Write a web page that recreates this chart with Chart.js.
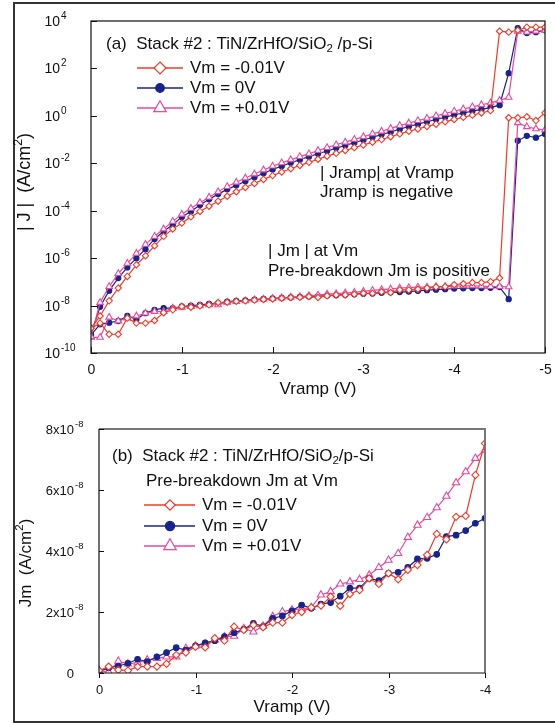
<!DOCTYPE html>
<html><head><meta charset="utf-8">
<script src="https://cdn.jsdelivr.net/npm/chart.js@4.4.1/dist/chart.umd.min.js"></script>
<style>
html,body{margin:0;padding:0;background:#fff;width:555px;height:723px;overflow:hidden;position:relative}
#frame{position:absolute;left:13px;top:2px;width:600px;height:717px;border:2px solid #333}
canvas{position:absolute;left:0}
#ca{top:0}
#cb{top:400px}
</style></head><body>
<div id="frame"></div>
<canvas id="ca" width="555" height="400"></canvas>
<canvas id="cb" width="555" height="323"></canvas>
<script>
// ---------- DATA (panel a) : Vramp (V) and log10 |J| (A/cm2) ----------
const vrampA = [0,-0.1,-0.2,-0.3,-0.4,-0.5,-0.6,-0.7,-0.8,-0.9,-1.0,-1.1,-1.2,-1.3,-1.4,-1.5,-1.6,-1.7,-1.8,-1.9,-2.0,-2.1,-2.2,-2.3,-2.4,-2.5,-2.6,-2.7,-2.8,-2.9,-3.0,-3.1,-3.2,-3.3,-3.4,-3.5,-3.6,-3.7,-3.8,-3.9,-4.0,-4.1,-4.2,-4.3,-4.4,-4.5,-4.6,-4.7,-4.8,-4.9,-5.0];
// |Jramp| at Vramp
const logJrampNeg  = [-8.96,-8.44,-7.8,-7.26,-6.77,-6.28,-5.9,-5.48,-5.08,-4.77,-4.52,-4.26,-4.03,-3.81,-3.6,-3.39,-3.2,-3.02,-2.85,-2.68,-2.52,-2.37,-2.23,-2.09,-1.96,-1.83,-1.7,-1.58,-1.46,-1.34,-1.23,-1.11,-1.0,-0.88,-0.76,-0.65,-0.55,-0.45,-0.35,-0.25,-0.15,-0.06,0.03,0.12,0.22,3.57,3.53,3.61,3.74,3.74,3.74];
const logJrampZero = [-9.2,-8.05,-7.37,-6.84,-6.39,-6.0,-5.62,-5.19,-4.87,-4.59,-4.26,-4.03,-3.76,-3.52,-3.3,-3.1,-2.93,-2.76,-2.59,-2.42,-2.26,-2.12,-1.98,-1.85,-1.72,-1.6,-1.48,-1.36,-1.25,-1.13,-1.02,-0.9,-0.79,-0.68,-0.56,-0.45,-0.35,-0.25,-0.15,-0.06,0.04,0.12,0.2,0.27,0.35,0.45,1.8,3.7,3.49,3.53,3.61];
const logJrampPos  = [-9.31,-7.87,-7.2,-6.65,-6.22,-5.8,-5.42,-5.08,-4.77,-4.45,-4.15,-3.9,-3.66,-3.43,-3.2,-2.98,-2.8,-2.62,-2.45,-2.28,-2.12,-1.98,-1.85,-1.72,-1.6,-1.46,-1.34,-1.22,-1.11,-0.99,-0.88,-0.76,-0.65,-0.53,-0.41,-0.3,-0.2,-0.1,0.0,0.1,0.2,0.29,0.38,0.47,0.55,0.65,0.78,3.57,3.53,3.57,3.61];
// |Jm| at Vm
const logJmNeg  = [-8.96,-8.74,-9.21,-9.21,-8.53,-8.74,-8.74,-8.63,-8.3,-8.18,-8.04,-8.07,-8.01,-7.97,-7.87,-7.86,-7.82,-7.8,-7.77,-7.74,-7.72,-7.69,-7.66,-7.65,-7.62,-7.66,-7.59,-7.55,-7.55,-7.52,-7.48,-7.48,-7.42,-7.45,-7.34,-7.34,-7.31,-7.26,-7.22,-7.2,-7.12,-7.08,-7.03,-7.03,-6.99,-6.84,-0.08,-0.08,-0.04,-0.2,0.13];
const logJmZero = [-9.24,-8.79,-8.72,-8.65,-8.44,-8.58,-8.32,-8.18,-8.11,-8.11,-8.04,-8.0,-7.97,-7.93,-7.9,-7.83,-7.8,-7.78,-7.75,-7.72,-7.7,-7.68,-7.66,-7.63,-7.62,-7.6,-7.58,-7.56,-7.54,-7.52,-7.5,-7.49,-7.46,-7.44,-7.43,-7.41,-7.38,-7.35,-7.33,-7.31,-7.28,-7.27,-7.26,-7.26,-7.25,-7.22,-7.73,-1.05,-0.84,-0.92,-0.76];
const logJmPos  = [-9.34,-9.34,-8.49,-8.65,-8.53,-8.44,-8.32,-8.25,-8.25,-8.11,-8.07,-8.04,-8.01,-7.97,-7.97,-7.86,-7.83,-7.8,-7.76,-7.73,-7.7,-7.67,-7.64,-7.62,-7.58,-7.56,-7.52,-7.5,-7.47,-7.44,-7.4,-7.36,-7.33,-7.3,-7.26,-7.24,-7.22,-7.22,-7.2,-7.2,-7.18,-7.17,-7.17,-7.18,-7.2,-7.2,-7.21,-0.29,-0.46,-0.55,-0.59];
const yTickExpA = [-10,-8,-6,-4,-2,0,2,4];
const xTicksA = [0,-1,-2,-3,-4,-5];

// ---------- DATA (panel b) : pre-breakdown Jm (units of 1e-8 A/cm2) ----------
const vrampB = [0,-0.1,-0.2,-0.3,-0.4,-0.5,-0.6,-0.7,-0.8,-0.9,-1.0,-1.1,-1.2,-1.3,-1.4,-1.5,-1.6,-1.7,-1.8,-1.9,-2.0,-2.1,-2.2,-2.3,-2.4,-2.5,-2.6,-2.7,-2.8,-2.9,-3.0,-3.1,-3.2,-3.3,-3.4,-3.5,-3.6,-3.7,-3.8,-3.9,-4.0];
const jmNeg  = [0.08,0.21,0.1,0.08,0.21,0.21,0.21,0.3,0.59,0.67,0.86,0.84,1.14,1.06,1.52,1.41,1.57,1.5,1.65,1.65,1.9,2.0,2.15,2.21,2.5,2.2,2.59,2.72,3.1,2.92,3.27,3.07,3.38,3.54,3.87,4.56,4.38,5.12,5.15,6.49,7.53];
const jmZero = [0.05,0.17,0.23,0.32,0.45,0.37,0.53,0.67,0.83,0.75,0.89,0.99,1.06,1.19,1.32,1.43,1.63,1.52,1.79,1.87,2.04,2.23,2.12,2.26,2.31,2.52,2.78,2.78,3.1,3.03,3.27,3.3,3.46,3.74,3.76,3.89,4.47,4.52,4.67,4.91,5.07];
const jmPos  = [0.08,0.04,0.39,0.3,0.34,0.43,0.48,0.53,0.53,0.81,0.89,0.95,1.09,1.19,1.21,1.46,1.35,1.54,1.85,2.01,2.07,2.1,2.15,2.56,2.67,2.92,2.99,3.07,3.21,3.46,3.7,3.92,4.45,4.85,5.1,5.42,5.8,6.24,6.6,7.04,7.31];
const yTicksB = [0,2,4,6,8];
const xTicksB = [0,-1,-2,-3,-4];

const seriesLabels = ['Vm = -0.01V','Vm = 0V','Vm = +0.01V'];

// ---------- STYLE ----------
const FONT = '"Liberation Sans", Arial, Helvetica, sans-serif';
const RED = '#ef3b26', BLUE = '#17248e', PINK = '#e8489e';
const styles = [
  {color:RED, pt:'rectRot', fill:'#ffffff'},
  {color:BLUE, pt:'circle', fill:BLUE},
  {color:PINK, pt:'triangle', fill:'#ffffff'}
];

function mkDs(xs, ys, st, r, conv) {
  return {
    data: xs.map((x, i) => ({x: x, y: conv(ys[i])})),
    borderColor: st.color, backgroundColor: st.fill,
    pointStyle: st.pt, pointRadius: r, pointBorderWidth: 1.1,
    pointBackgroundColor: st.fill, pointBorderColor: st.color,
    borderWidth: 1.2, tension: 0, fill: false
  };
}

function setFont(ctx, size) { ctx.font = size + 'px ' + FONT; }
function richWidth(ctx, segs, size) {
  let w = 0;
  segs.forEach(s => { setFont(ctx, (s.sup || s.sub) ? size * 0.68 : size); w += ctx.measureText(s.t).width; });
  return w;
}
function drawRich(ctx, segs, x, y, size, align) {
  ctx.textBaseline = 'middle'; ctx.textAlign = 'left';
  let cx = x;
  if (align === 'center') cx = x - richWidth(ctx, segs, size) / 2;
  segs.forEach(s => {
    const sz = (s.sup || s.sub) ? size * 0.68 : size;
    setFont(ctx, sz);
    let dy = 0;
    if (s.sup) dy = -size * 0.38;
    if (s.sub) dy = size * 0.3;
    ctx.fillText(s.t, cx, y + dy);
    cx += ctx.measureText(s.t).width;
  });
}
function drawMarker(ctx, pt, x, y, r, color, fill) {
  ctx.save();
  ctx.beginPath();
  if (pt === 'rectRot') {
    ctx.moveTo(x, y - r); ctx.lineTo(x + r, y); ctx.lineTo(x, y + r); ctx.lineTo(x - r, y); ctx.closePath();
  } else if (pt === 'circle') {
    ctx.arc(x, y, r, 0, Math.PI * 2);
  } else {
    ctx.moveTo(x, y - r); ctx.lineTo(x + r * 0.866, y + r * 0.5); ctx.lineTo(x - r * 0.866, y + r * 0.5); ctx.closePath();
  }
  ctx.fillStyle = fill; ctx.fill();
  ctx.lineWidth = 1.2; ctx.strokeStyle = color; ctx.stroke();
  ctx.restore();
}
function drawLegend(ctx, rows, x0, x1, xm, xt, size, radii) {
  rows.forEach((y, i) => {
    const st = styles[i];
    ctx.save();
    ctx.strokeStyle = st.color; ctx.lineWidth = 1.4;
    ctx.beginPath(); ctx.moveTo(x0, y); ctx.lineTo(x1, y); ctx.stroke();
    ctx.restore();
    drawMarker(ctx, st.pt, xm, y, radii[i], st.color, st.fill);
    ctx.fillStyle = '#111';
    drawRich(ctx, [{t: seriesLabels[i]}], xt, y, size, 'left');
  });
}
function drawVTitle(ctx, segs, x, y, size) {
  ctx.save(); ctx.translate(x, y); ctx.rotate(-Math.PI / 2);
  ctx.fillStyle = '#111';
  drawRich(ctx, segs, 0, 0, size, 'center');
  ctx.restore();
}

// ---------- PANEL A ----------
const decorA = {
  id: 'decorA',
  afterDraw(chart) {
    const ctx = chart.ctx, ca = chart.chartArea, xs = chart.scales.x, ys = chart.scales.y;
    ctx.save();
    ctx.strokeStyle = '#222'; ctx.lineWidth = 1.3;
    ctx.strokeRect(ca.left, ca.top, ca.right - ca.left, ca.bottom - ca.top);
    ctx.fillStyle = '#111'; ctx.strokeStyle = '#111'; ctx.lineWidth = 1;
    yTickExpA.forEach(e => {
      const y = Math.round(ys.getPixelForValue(Math.pow(10, e))) + 0.5;
      ctx.beginPath(); ctx.moveTo(ca.left, y); ctx.lineTo(ca.left + 6, y); ctx.stroke();
      setFont(ctx, 14); ctx.textAlign = 'right'; ctx.textBaseline = 'middle';
      ctx.fillText('10', 60, y + 1);
      setFont(ctx, 10); ctx.textAlign = 'left';
      ctx.fillText(String(e), 61, y - 5);
    });
    xTicksA.forEach(v => {
      const x = Math.round(xs.getPixelForValue(v)) + 0.5;
      ctx.beginPath(); ctx.moveTo(x, ca.bottom); ctx.lineTo(x, ca.bottom - 6); ctx.stroke();
      setFont(ctx, 14); ctx.textAlign = 'center'; ctx.textBaseline = 'middle';
      ctx.fillText(String(v), x, 370);
    });
    drawRich(ctx, [{t: 'Vramp (V)'}], (ca.left + ca.right) / 2, 389, 17, 'center');
    drawVTitle(ctx, [{t: '| J |  (A/cm'}, {t: '2', sup: true}, {t: ')'}], 25, 182, 18);
    ctx.fillStyle = '#111';
    drawRich(ctx, [{t: '(a)  Stack #2 : TiN/ZrHfO/SiO'}, {t: '2', sub: true}, {t: ' /p-Si'}], 106, 44, 17, 'left');
    drawLegend(ctx, [68, 88, 108], 137, 183, 160, 190, 17, [6, 4.3, 7.2]);
    ctx.fillStyle = '#111';
    drawRich(ctx, [{t: '| Jramp| at Vramp'}], 320, 173, 17, 'left');
    drawRich(ctx, [{t: 'Jramp is negative'}], 320, 192, 17, 'left');
    drawRich(ctx, [{t: '| Jm | at Vm'}], 268, 251, 17, 'left');
    drawRich(ctx, [{t: 'Pre-breakdown Jm is positive'}], 268, 271, 17, 'left');
    ctx.restore();
  }
};
const toJ = e => Math.pow(10, e);
const dsA = [
  mkDs(vrampA, logJrampNeg, styles[0], 3.2, toJ),
  mkDs(vrampA, logJmNeg, styles[0], 3.2, toJ),
  mkDs(vrampA, logJrampPos, styles[2], 3.8, toJ),
  mkDs(vrampA, logJmPos, styles[2], 3.8, toJ),
  mkDs(vrampA, logJrampZero, styles[1], 2.6, toJ),
  mkDs(vrampA, logJmZero, styles[1], 2.6, toJ)
];
new Chart(document.getElementById('ca'), {
  type: 'line',
  data: {datasets: dsA},
  options: {
    responsive: false, animation: false, devicePixelRatio: 1,
    layout: {padding: {left: 91, right: 10, top: 21, bottom: 47}},
    plugins: {legend: {display: false}, tooltip: {enabled: false}},
    scales: {
      x: {type: 'linear', min: -5, max: 0, reverse: true, display: false},
      y: {type: 'logarithmic', min: 1e-10, max: 1e4, display: false}
    }
  },
  plugins: [decorA]
});

// ---------- PANEL B ----------
const decorB = {
  id: 'decorB',
  afterDraw(chart) {
    const ctx = chart.ctx, ca = chart.chartArea, xs = chart.scales.x, ys = chart.scales.y;
    ctx.save();
    ctx.strokeStyle = '#777'; ctx.lineWidth = 2;
    ctx.beginPath(); ctx.moveTo(ca.left, ca.top); ctx.lineTo(ca.right, ca.top); ctx.lineTo(ca.right, ca.bottom); ctx.stroke();
    ctx.strokeStyle = '#111'; ctx.lineWidth = 1.2;
    ctx.beginPath(); ctx.moveTo(ca.left, ca.top); ctx.lineTo(ca.left, ca.bottom); ctx.lineTo(ca.right, ca.bottom); ctx.stroke();
    ctx.fillStyle = '#111'; ctx.lineWidth = 1;
    yTicksB.forEach(k => {
      const y = Math.round(ys.getPixelForValue(k * 1e-8)) + 0.5;
      ctx.beginPath(); ctx.moveTo(ca.left, y); ctx.lineTo(ca.left + 5, y); ctx.stroke();
      setFont(ctx, 13); ctx.textAlign = 'right'; ctx.textBaseline = 'middle';
      ctx.fillText(k === 0 ? '0' : k + 'x10', 74, y + 1);
      if (k !== 0) { setFont(ctx, 9.5); ctx.textAlign = 'left'; ctx.fillText('-8', 75, y - 5); }
    });
    xTicksB.forEach(v => {
      const x = Math.round(xs.getPixelForValue(v)) + 0.5;
      ctx.beginPath(); ctx.moveTo(x, ca.bottom); ctx.lineTo(x, ca.bottom + 5); ctx.stroke();
      setFont(ctx, 13); ctx.textAlign = 'center'; ctx.textBaseline = 'middle';
      ctx.fillText(String(v), x, 290);
    });
    drawRich(ctx, [{t: 'Vramp (V)'}], (ca.left + ca.right) / 2, 307, 17, 'center');
    drawVTitle(ctx, [{t: 'Jm  (A/cm'}, {t: '2', sup: true}, {t: ')'}], 26, 163, 17);
    ctx.fillStyle = '#111';
    drawRich(ctx, [{t: '(b)  Stack #2 : TiN/ZrHfO/SiO'}, {t: '2', sub: true}, {t: '/p-Si'}], 112, 56, 17, 'left');
    drawRich(ctx, [{t: 'Pre-breakdown Jm at Vm'}], 146, 81, 17, 'left');
    drawLegend(ctx, [105, 126, 146], 144, 195, 170, 202, 17, [5.2, 4.6, 7.2]);
    ctx.restore();
  }
};
const toA = k => k * 1e-8;
const dsB = [
  mkDs(vrampB, jmNeg, styles[0], 3.6, toA),
  mkDs(vrampB, jmZero, styles[1], 2.8, toA),
  mkDs(vrampB, jmPos, styles[2], 4.2, toA)
];
new Chart(document.getElementById('cb'), {
  type: 'line',
  data: {datasets: dsB},
  options: {
    responsive: false, animation: false, devicePixelRatio: 1,
    layout: {padding: {left: 99, right: 70, top: 29, bottom: 50}},
    plugins: {legend: {display: false}, tooltip: {enabled: false}},
    scales: {
      x: {type: 'linear', min: -4, max: 0, reverse: true, display: false},
      y: {type: 'linear', min: 0, max: 8e-8, display: false}
    }
  },
  plugins: [decorB]
});
</script></body></html>
